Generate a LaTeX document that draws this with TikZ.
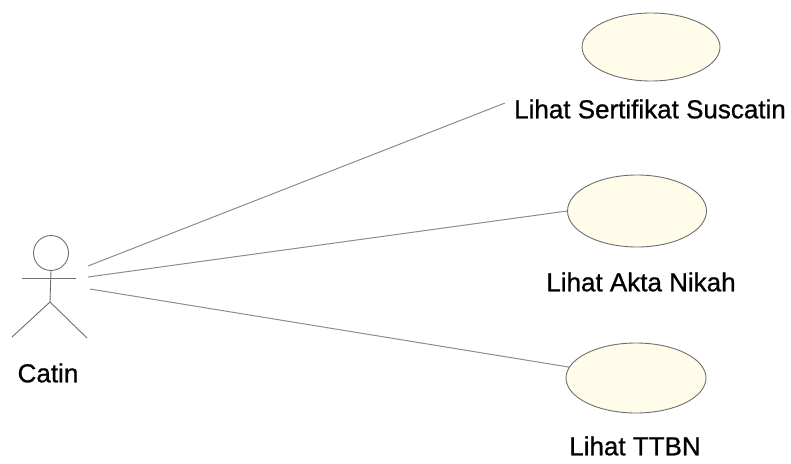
\documentclass[tikz,border=0pt]{standalone}
\usepackage{fontspec}
\setmainfont{Liberation Sans}
\newfontfamily\lblfont[FakeBold=0.8]{Liberation Sans}
\usetikzlibrary{shapes.geometric}
\definecolor{ucfill}{RGB}{255,253,234}
\definecolor{ucline}{RGB}{110,110,110}
\definecolor{conn}{RGB}{140,140,140}
\begin{document}
\begin{tikzpicture}[x=1pt,y=-1pt,
  usecase/.style={draw=ucline,line width=0.9pt,fill=ucfill,ellipse,inner sep=0pt},
  lbl/.style={font=\lblfont\fontsize{26}{28}\selectfont,text=black,inner sep=0pt},
  assoc/.style={draw=conn,line width=1pt},
  stick/.style={draw=ucline,line width=0.9pt}]
\useasboundingbox (0,0) rectangle (791,463);
% actor
\node[circle,draw=ucline,line width=0.9pt,minimum width=35pt,inner sep=0pt] (head) at (51,253) {};
\coordinate (armL) at (22,278);
\coordinate (armR) at (76,278);
\coordinate (hip) at (50,302);
\coordinate (legL) at (12,337);
\coordinate (legR) at (87,338);
\draw[stick] (armL) -- (armR);
\draw[stick] (head.south) -- (hip);
\draw[stick] (legL) -- (hip) -- (legR);
\node[lbl] (catin) at (48,373) {Catin};
% use cases
\node[usecase,minimum width=138pt,minimum height=68pt] (uc1) at (651,47) {};
\node[usecase,minimum width=139pt,minimum height=72pt] (uc2) at (637,211) {};
\node[usecase,minimum width=140pt,minimum height=70pt] (uc3) at (636,378) {};
\node[lbl] (l1) at (650,109) {Lihat Sertifikat Suscatin};
\node[lbl] (l2) at (641,282) {Lihat Akta Nikah};
\node[lbl] (l3) at (635,446) {Lihat TTBN};
% connectors
\coordinate (s1) at (88,266);
\coordinate (s2) at (88,277);
\coordinate (s3) at (90,289);
\coordinate (e1) at (505,103);
\draw[assoc] (s1) -- (e1);
\draw[assoc] (s2) -- (uc2.west);
\draw[assoc] (s3) -- (uc3);
\end{tikzpicture}
\end{document}
